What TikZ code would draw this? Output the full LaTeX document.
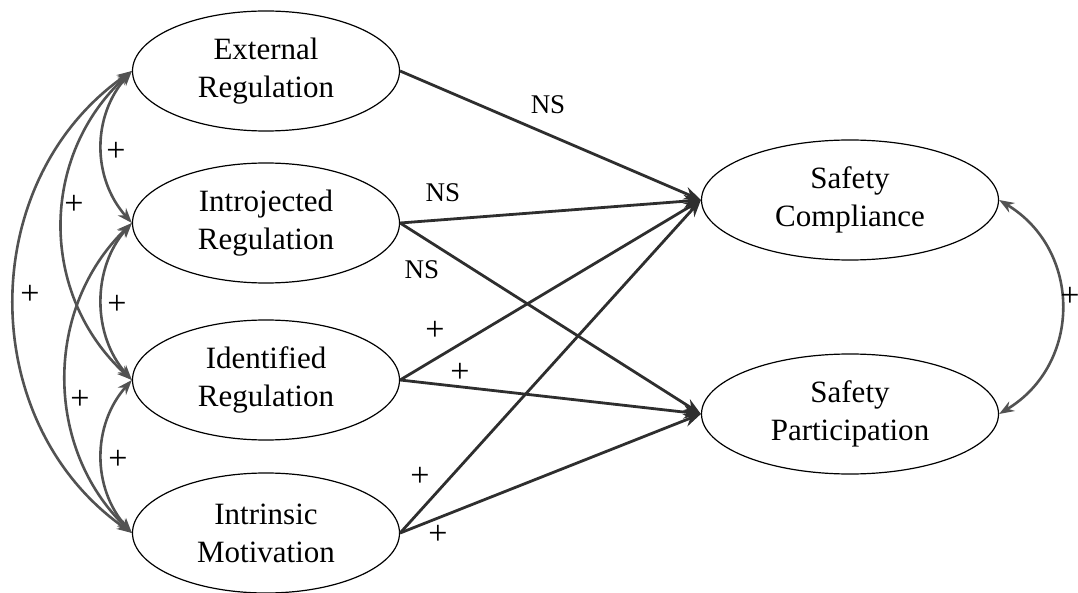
\documentclass[tikz,border=0pt]{standalone}
\usepackage{fontspec}
\setmainfont{Liberation Serif}
\usetikzlibrary{shapes.geometric,arrows.meta}
\begin{document}
\begin{tikzpicture}[x=1pt,y=-1pt,
  construct/.style={ellipse, draw=black, line width=1.2pt, fill=white,
    minimum width=267pt, minimum height=120pt, inner sep=0pt, align=center,
    font=\fontsize{31}{38}\selectfont},
  outcome/.style={construct, minimum width=297pt},
  effect/.style={draw=black!82, line width=2.8pt, -{Stealth[length=17pt,width=13pt]}},
  covar/.style={draw=black!68, line width=2.6pt,
    {Stealth[length=15pt,width=11pt]}-{Stealth[length=15pt,width=11pt]}},
  sig/.style={font=\fontsize{27}{30}\selectfont, inner sep=0pt},
  plus/.style={font=\fontsize{34}{34}\selectfont, inner sep=0pt},
]
\useasboundingbox (0,0) rectangle (1078,593);

% latent constructs
\node[construct] (ext)   at (266,71)  {External\\Regulation};
\node[construct] (intro) at (266,223) {Introjected\\Regulation};
\node[construct] (ident) at (266,380) {Identified\\Regulation};
\node[construct] (intr)  at (266,533) {Intrinsic\\Motivation};
\node[outcome]   (sc)    at (850,200) {Safety\\Compliance};
\node[outcome]   (sp)    at (850,414) {Safety\\Participation};

% correlations among the motivation types
\draw[covar] (ext.west)   .. controls +(-40,45)   and +(-40,-45)   .. (intro.west);
\draw[covar] (intro.west) .. controls +(-40,45)   and +(-40,-45)   .. (ident.west);
\draw[covar] (ident.west) .. controls +(-40,45)   and +(-40,-45)   .. (intr.west);
\draw[covar] (ext.west)   .. controls +(-93,85)   and +(-93,-85)   .. (ident.west);
\draw[covar] (intro.west) .. controls +(-88,85)   and +(-88,-85)   .. (intr.west);
\draw[covar] (ext.west)   .. controls +(-157,110) and +(-157,-110) .. (intr.west);

% correlation between the outcomes
\draw[covar] (sc.east) .. controls +(83,50) and +(83,-50) .. (sp.east);

% structural paths
\draw[effect] (ext.east)   -- (sc.west);
\draw[effect] (intro.east) -- (sc.west);
\draw[effect] (intro.east) -- (sp.west);
\draw[effect] (ident.east) -- (sc.west);
\draw[effect] (ident.east) -- (sp.west);
\draw[effect] (intr.east)  -- (sc.west);
\draw[effect] (intr.east)  -- (sp.west);

% path labels
\node[sig]  (l1) at (548,105) {NS};
\node[sig]  (l2) at (443,193) {NS};
\node[sig]  (l3) at (422,270) {NS};
\node[plus] (l4) at (435,331) {+};
\node[plus] (l5) at (460,373) {+};
\node[plus] (l6) at (420,477) {+};
\node[plus] (l7) at (438,535) {+};

% correlation labels
\node[plus] (c1) at (116,152) {+};
\node[plus] (c2) at (74,205)  {+};
\node[plus] (c3) at (30,295)  {+};
\node[plus] (c4) at (117,305) {+};
\node[plus] (c5) at (80,400)  {+};
\node[plus] (c6) at (118,460) {+};
\node[plus] (c7) at (1070,297) {+};
\end{tikzpicture}
\end{document}
